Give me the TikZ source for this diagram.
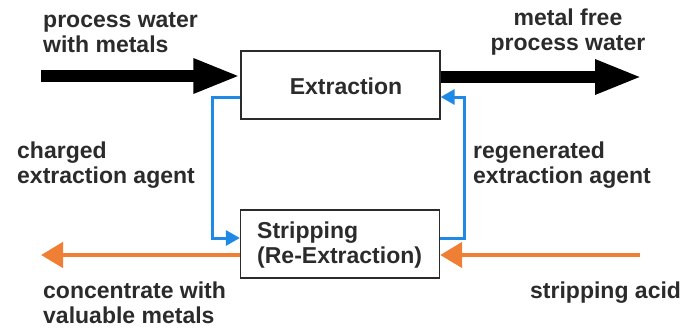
\documentclass[tikz,border=0pt]{standalone}
\usepackage{fontspec}
\setmainfont{Liberation Sans}
\usetikzlibrary{arrows.meta}
\definecolor{txt}{HTML}{2B2B2B}
\definecolor{agent}{HTML}{1E8AE6}
\definecolor{acid}{HTML}{F07F36}
\tikzset{
  lbl/.style={font=\fontsize{23}{25}\selectfont\bfseries, text=txt, inner sep=0pt},
  unit/.style={draw=txt, line width=1.3pt, fill=white, minimum width=199pt, minimum height=68pt, inner sep=0pt},
  water/.style={line width=11.5pt, -{Triangle[length=47pt,width=32pt]}},
  agentline/.style={draw=agent, line width=3pt, -{Triangle[length=14pt,width=15pt]}},
  acidline/.style={draw=acid, line width=4.5pt, -{Triangle[length=22pt,width=25pt]}}
}
\begin{document}
\begin{tikzpicture}[x=1pt, y=-1pt]
  \useasboundingbox (0,0) rectangle (700,329);

  % process units
  \node[unit] (ext) at (340.5,85) {};
  \node[lbl] (exttxt) at (346,86) {Extraction};
  \node[unit] (strip) at (340,244) {};
  \node[lbl, align=left, anchor=west] (striptxt) at (257,245.5) {Stripping\\(Re-Extraction)};

  % free ends of the water and acid streams
  \coordinate (winA) at (41,76);
  \coordinate (woutB) at (642,77);
  \coordinate (concB) at (41,255);
  \coordinate (acidA) at (640,255);

  % process water in and out
  \draw[water] (winA) -- ([yshift=9pt]ext.west);
  \draw[water] ([yshift=8pt]ext.east) -- (woutB);

  % extraction agent loop
  \draw[agentline] ([yshift=-12pt]ext.west) -| ([xshift=-27pt,yshift=6pt]strip.west) -- ([yshift=6pt]strip.west);
  \draw[agentline] ([yshift=6pt]strip.east) -| ([xshift=24pt,yshift=-12pt]ext.east) -- ([yshift=-12pt]ext.east);

  % stripping acid and concentrate
  \draw[acidline] ([yshift=-11pt]strip.west) -- (concB);
  \draw[acidline] (acidA) -- ([yshift=-11pt]strip.east);

  % stream labels
  \node[lbl, align=left, anchor=west] (l1) at (43,32.5) {process water\\with metals};
  \node[lbl, align=center] (l2) at (568,32.5) {metal free\\process water};
  \node[lbl, align=left, anchor=west] (l3) at (17,165) {charged\\extraction agent};
  \node[lbl, align=left, anchor=west] (l4) at (473,165) {regenerated\\extraction agent};
  \node[lbl, align=left, anchor=west] (l5) at (43,302.5) {concentrate with\\valuable metals};
  \node[lbl, anchor=west] (l6) at (530,293) {stripping acid};
\end{tikzpicture}
\end{document}
